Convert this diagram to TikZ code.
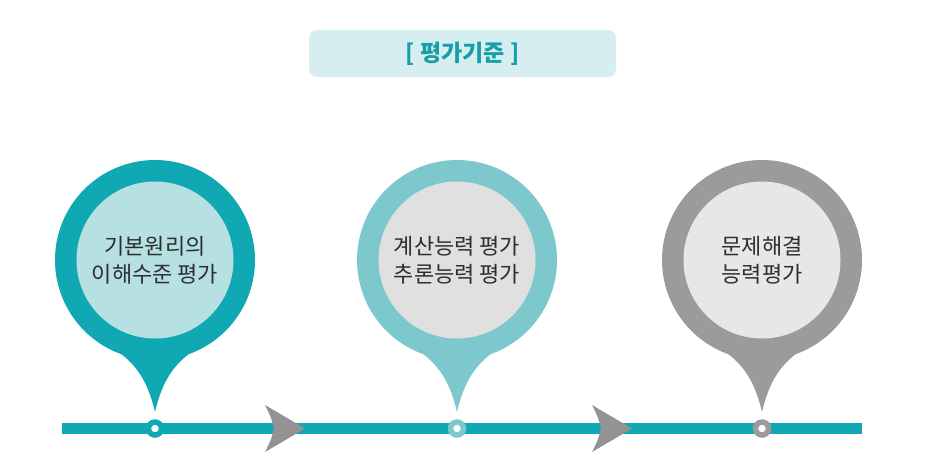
\documentclass[tikz,border=0pt]{standalone}
\usepackage{fontspec}
\newfontfamily\kr{Noto Sans CJK KR}
\definecolor{tealA}{HTML}{10A9B3}
\definecolor{tealAin}{HTML}{B7E0E3}
\definecolor{tealB}{HTML}{7DC8CD}
\definecolor{greyBin}{HTML}{E0E0E0}
\definecolor{greyC}{HTML}{9B9B9B}
\definecolor{greyCin}{HTML}{E7E7E7}
\definecolor{titlebg}{HTML}{D6EEF0}
\definecolor{titlefg}{HTML}{169FA8}
\definecolor{txt}{HTML}{2E2E2E}
\definecolor{arrowgrey}{HTML}{939393}
\begin{document}
\begin{tikzpicture}[x=1pt,y=-1pt]
\useasboundingbox (0,0) rectangle (928,469);
\tikzset{
  pinouter/.style={circle, minimum size=200pt, inner sep=0pt},
  pininner/.style={circle, minimum size=157pt, inner sep=0pt, font=\kr\fontsize{22}{28}\selectfont, text=txt, align=center},
  marker/.style={circle, minimum size=13pt, inner sep=0pt, line width=5.5pt, fill=white},
  arrowhd/.style={fill=arrowgrey},
  titlebox/.style={rounded corners=8pt, fill=titlebg, minimum width=307pt, minimum height=47pt, text=titlefg, font=\kr\bfseries\fontsize{23}{26}\selectfont},
  timeline/.style={draw=tealA, line width=11pt}
}
% title
\node[titlebox] (title) at (462.5,53.5) {[ 평가기준 ]};
% timeline
\coordinate (lstart) at (62,428.5);
\coordinate (lend) at (862,428.5);
\draw[timeline] (lstart) -- (lend);
% arrowheads on the line
\foreach \dx [count=\k] in {0,327}{
  \fill[arrowhd, xshift=\dx] (265,405) -- (305,428.5) -- (265,452)
     .. controls (271,440) .. (274,428.5) .. controls (271,417) .. cycle;
}
% pins
\foreach \cx/\oc/\ic/\txt/\nm in {155/tealA/tealAin/{기본원리의\\이해수준 평가}/pa,
                                 457/tealB/greyBin/{계산능력 평가\\추론능력 평가}/pb,
                                 762/greyC/greyCin/{문제해결\\능력평가}/pc}{
  \fill[\oc] (\cx-75,326) .. controls (\cx-40,352) and (\cx-13,356) .. (\cx,412)
        .. controls (\cx+13,356) and (\cx+40,352) .. (\cx+75,326) -- cycle;
  \node[pinouter, fill=\oc] (\nm-out) at (\cx,260) {};
  \node[pininner, fill=\ic] (\nm-in) at (\cx,260) {\txt};
  \node[marker, draw=\oc] (\nm-mark) at (\cx,428.5) {};
}
\end{tikzpicture}
\end{document}
